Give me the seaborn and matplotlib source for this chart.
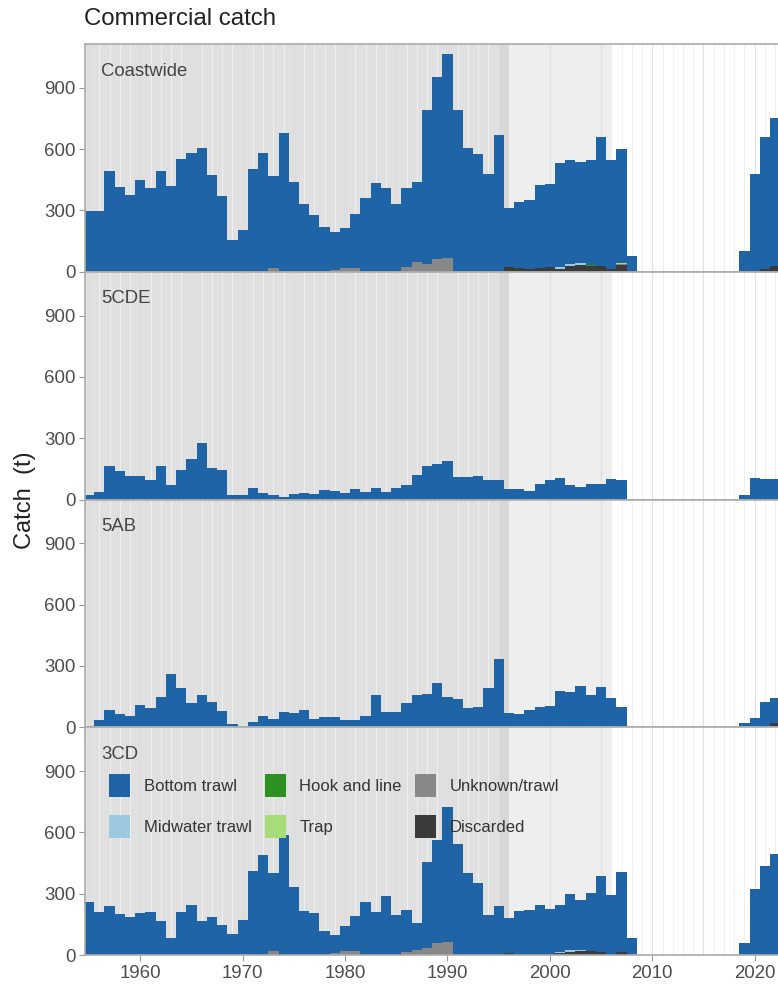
import pandas as pd
import seaborn as sns
import matplotlib.pyplot as plt
from matplotlib.patches import Patch

plt.rcParams["font.family"] = ["Liberation Sans", "DejaVu Sans"]

years = list(range(1955, 2023))
areas = ["Coastwide", "5CDE", "5AB", "3CD"]
gears = ["Bottom trawl", "Midwater trawl", "Hook and line", "Trap",
         "Unknown/trawl", "Discarded"]
gear_colours = ["#2064A8", "#9CC8E0", "#2C9121", "#A6DC7A", "#888888", "#3A3A3A"]

# total catch per year (top of the stacked bar), tonnes, 1955-2022
total_coastwide = [295, 295, 493, 414, 375, 447, 409, 493, 419, 553,
                   579, 603, 471, 370, 153, 204, 502, 579, 466, 680,
                   437, 329, 279, 219, 196, 215, 282, 360, 434, 411,
                   329, 411, 439, 791, 953, 1067, 793, 603, 576, 480,
                   667, 310, 339, 352, 424, 431, 532, 548, 537, 545,
                   657, 545, 602, 75,
                   0, 0, 0, 0, 0, 0, 0, 0, 0, 0,
                   101, 480, 661, 752]
total_5cde = [20, 36, 164, 138, 115, 116, 97, 164, 71, 146,
              198, 277, 156, 146, 21, 21, 56, 34, 21, 11,
              26, 31, 25, 48, 43, 34, 49, 39, 57, 39,
              57, 70, 121, 164, 175, 190, 110, 110, 115, 93,
              93, 49, 52, 41, 77, 97, 107, 71, 59, 77,
              77, 100, 93, 0,
              0, 0, 0, 0, 0, 0, 0, 0, 0, 0,
              21, 105, 102, 102]
total_5ab = [5, 34, 86, 66, 55, 111, 94, 150, 260, 192,
             118, 157, 125, 79, 17, 0, 28, 53, 41, 74,
             70, 82, 42, 48, 52, 34, 36, 55, 158, 74,
             75, 117, 160, 163, 218, 147, 136, 92, 101, 193,
             336, 69, 67, 86, 99, 104, 178, 173, 203, 158,
             195, 144, 101, 0,
             0, 0, 0, 0, 0, 0, 0, 0, 0, 0,
             19, 47, 124, 145]
total_3cd = [258, 212, 240, 199, 186, 206, 212, 168, 84, 211,
             245, 168, 185, 146, 105, 172, 411, 488, 400, 585,
             332, 215, 206, 115, 99, 143, 191, 259, 211, 288,
             194, 219, 157, 457, 561, 724, 543, 399, 352, 194,
             238, 181, 214, 222, 245, 227, 245, 298, 271, 303,
             384, 295, 405, 81,
             0, 0, 0, 0, 0, 0, 0, 0, 0, 0,
             57, 324, 434, 492]

# smaller gear types, {year: tonnes}
minor_coastwide = {
    "Midwater trawl": {2001: 8, 2002: 10, 2003: 10},
    "Hook and line": {2004: 3},
    "Trap": {2007: 4},
    "Unknown/trawl": {1973: 18, 1979: 8, 1980: 18, 1981: 18, 1985: 5, 1986: 25,
                      1987: 47, 1988: 40, 1989: 62, 1990: 65, 2007: 6},
    "Discarded": {1996: 25, 1997: 20, 1998: 15, 1999: 18, 2000: 22, 2001: 15,
                  2002: 30, 2003: 35, 2004: 28, 2005: 28, 2006: 15, 2007: 33,
                  2020: 5, 2021: 15, 2022: 30},
}
minor_5cde = {
    "Discarded": {2001: 3, 2003: 3, 2005: 3, 2007: 3},
}
minor_5ab = {
    "Unknown/trawl": {1987: 6},
    "Discarded": {2002: 5, 2003: 8, 2022: 20},
}
minor_3cd = {
    "Midwater trawl": {2001: 5, 2002: 8, 2003: 5},
    "Unknown/trawl": {1973: 18, 1979: 10, 1980: 19, 1981: 19, 1986: 15,
                      1987: 26, 1988: 34, 1989: 57, 1990: 62},
    "Discarded": {1996: 8, 1997: 3, 1998: 3, 1999: 5, 2000: 5, 2001: 8,
                  2002: 15, 2003: 18, 2004: 18, 2005: 15, 2006: 3, 2007: 15},
}

totals = [total_coastwide, total_5cde, total_5ab, total_3cd]
minors = [minor_coastwide, minor_5cde, minor_5ab, minor_3cd]

rows = []
for area, tot, minor in zip(areas, totals, minors):
    for i, yr in enumerate(years):
        other = 0
        for g in gears[1:]:
            v = minor.get(g, {}).get(yr, 0)
            other += v
            rows.append((area, yr, g, v))
        rows.append((area, yr, "Bottom trawl", max(tot[i] - other, 0)))
catch = pd.DataFrame(rows, columns=["area", "year", "gear", "catch"])

W, H = 778, 985
fig = plt.figure(figsize=(W / 100, H / 100), dpi=100)

left_px, top_px, panel_h = 85, 44, 227.75
x0, x1 = 1954.6, 2024.0
px_per_year = 10.24
axes_w = (x1 - x0) * px_per_year

pal = dict(zip(gears, gear_colours))
axs = []
for k, area in enumerate(areas):
    bottom_px = top_px + (k + 1) * panel_h
    ax = fig.add_axes([left_px / W, 1 - bottom_px / H, axes_w / W, panel_h / H])
    axs.append(ax)

    # shaded periods and year grid
    ax.axvspan(1940, 1996, color="black", alpha=0.12, lw=0, zorder=0)
    ax.axvspan(1996, 2006, color="black", alpha=0.065, lw=0, zorder=0)
    ax.axvspan(1995, 1996, color="black", alpha=0.03, lw=0, zorder=0.1)
    for yr in range(1950, 2026):
        ax.axvline(yr, color="#F0F0F0", lw=0.7, zorder=0.5)
    for yr in range(1950, 2026, 5):
        ax.axvline(yr, color="black", alpha=0.06, lw=1.0, zorder=0.6)

    sub = catch[catch["area"] == area]
    sns.histplot(data=sub, x="year", weights="catch", hue="gear",
                 hue_order=gears, palette=pal, multiple="stack",
                 discrete=True, shrink=1, alpha=1, linewidth=0,
                 legend=False, ax=ax, zorder=2)

    ax.set_xlim(x0, x1)
    ax.set_ylim(0, 1114)
    ax.set_yticks([0, 300, 600, 900])
    ax.set_xticks([1960, 1970, 1980, 1990, 2000, 2010, 2020])
    ax.set_xlabel("")
    ax.set_ylabel("")
    for s in ax.spines.values():
        s.set_color("#ABABAB")
        s.set_linewidth(1.2)
        s.set_zorder(5)
    ax.tick_params(axis="both", length=4, width=0.8, color="#999999",
                   labelsize=13.4, labelcolor="#4D4D4D", pad=3)
    if k < 3:
        ax.tick_params(axis="x", bottom=False, labelbottom=False)

    ax.annotate(area, xy=(0, 1), xycoords="axes fraction",
                xytext=(16, -27), textcoords="offset pixels",
                ha="left", va="center", fontsize=13.3, color="#444444")

handles = [Patch(facecolor=c, edgecolor="none") for c in gear_colours]
axs[3].legend(handles, gears, ncol=3, loc="upper left",
              bbox_to_anchor=((109 - left_px) / axes_w, 1 - 47 / panel_h),
              frameon=False, fontsize=12, handlelength=1.27, handleheight=1.7,
              handletextpad=0.8, columnspacing=0.8, labelspacing=1.1,
              borderpad=0, borderaxespad=0, labelcolor="#333333")

fig.text(84 / W, 1 - 19 / H, "Commercial catch", fontsize=17.3,
         color="#222222", ha="left", va="center")
fig.text(25 / W, 1 - 500 / H, "Catch  (t)", fontsize=17, color="#222222",
         rotation=90, ha="center", va="center")

fig.savefig("out.png", dpi=100)
